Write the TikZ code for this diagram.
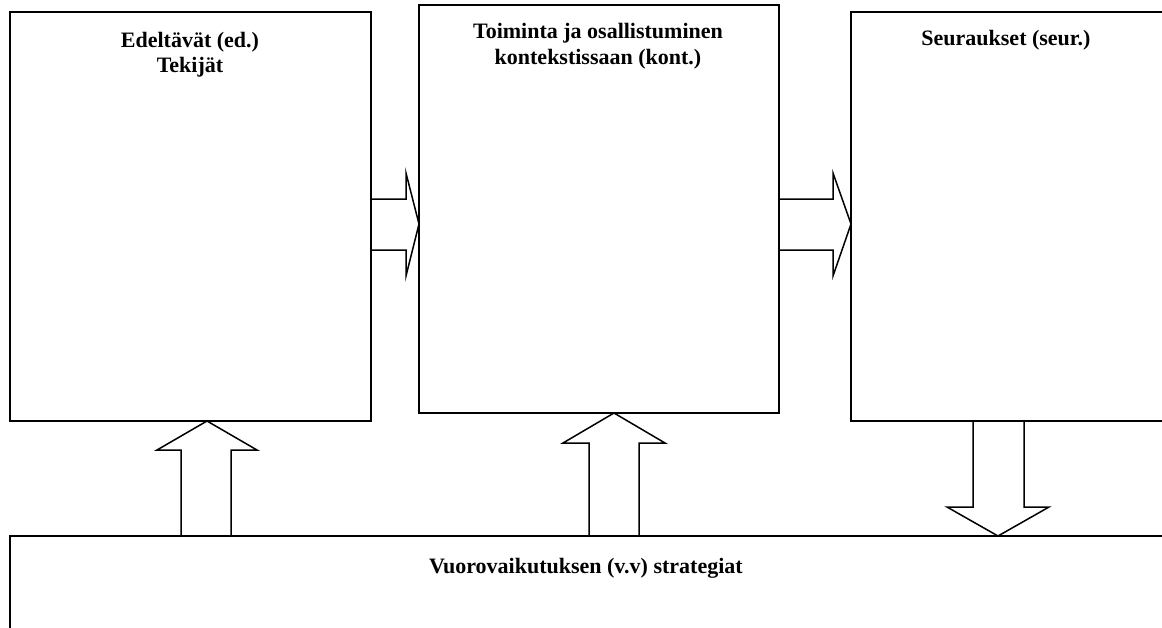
\documentclass[tikz,border=0pt]{standalone}
\usepackage{fontspec}
\setmainfont{Liberation Serif}
\begin{document}
\begin{tikzpicture}[x=1pt,y=-1pt,
  box/.style={draw,line width=1.5pt,inner sep=0pt,outer sep=0pt,anchor=north west},
  blk/.style={draw,line width=1.5pt,line join=miter},
  lbl/.style={anchor=base,inner sep=0pt,font=\bfseries\fontsize{22}{26}\selectfont}]
\useasboundingbox (0,0) rectangle (1162,627);
\clip (0,0) rectangle (1162,627);
% boxes
\node[box,minimum width=361pt,minimum height=409pt] (ed) at (10,12) {};
\node[box,minimum width=360pt,minimum height=408pt] (kont) at (419,5) {};
\node[box,minimum width=330pt,minimum height=409pt] (seur) at (851,12) {};
\node[box,minimum width=1170pt,minimum height=120pt] (vv) at (10,536) {};
% labels
\node[lbl] (t1a) at (190,47) {Edeltävät (ed.)};
\node[lbl] (t1b) at (190,72) {Tekijät};
\node[lbl] (t2a) at (598,38) {Toiminta ja osallistuminen};
\node[lbl] (t2b) at (598,64) {kontekstissaan (kont.)};
\node[lbl] (t3) at (1006,45) {Seuraukset (seur.)};
\node[lbl] (t4) at (586,573) {Vuorovaikutuksen (v.v) strategiat};
% right arrows
\draw[blk] (ed.east |- 0,199) -- (406,199) -- (406,173) -- (kont.west |- 0,224)
  -- (406,276) -- (406,250) -- (ed.east |- 0,250);
\draw[blk] (kont.east |- 0,199) -- (833,199) -- (833,173) -- (seur.west |- 0,224)
  -- (833,276) -- (833,250) -- (kont.east |- 0,250);
% up arrows
\draw[blk] (181,0 |- vv.north) -- (181,450) -- (157,450) -- (207,0 |- ed.south)
  -- (257,450) -- (231,450) -- (231,0 |- vv.north) -- cycle;
\draw[blk] (589,0 |- vv.north) -- (589,443) -- (563,443) -- (614,0 |- kont.south)
  -- (665,443) -- (639,443) -- (639,0 |- vv.north) -- cycle;
% down arrow
\draw[blk] (973,0 |- seur.south) -- (973,507) -- (947,507) -- (998,0 |- vv.north)
  -- (1049,507) -- (1024,507) -- (1024,0 |- seur.south) -- cycle;
\end{tikzpicture}
\end{document}
